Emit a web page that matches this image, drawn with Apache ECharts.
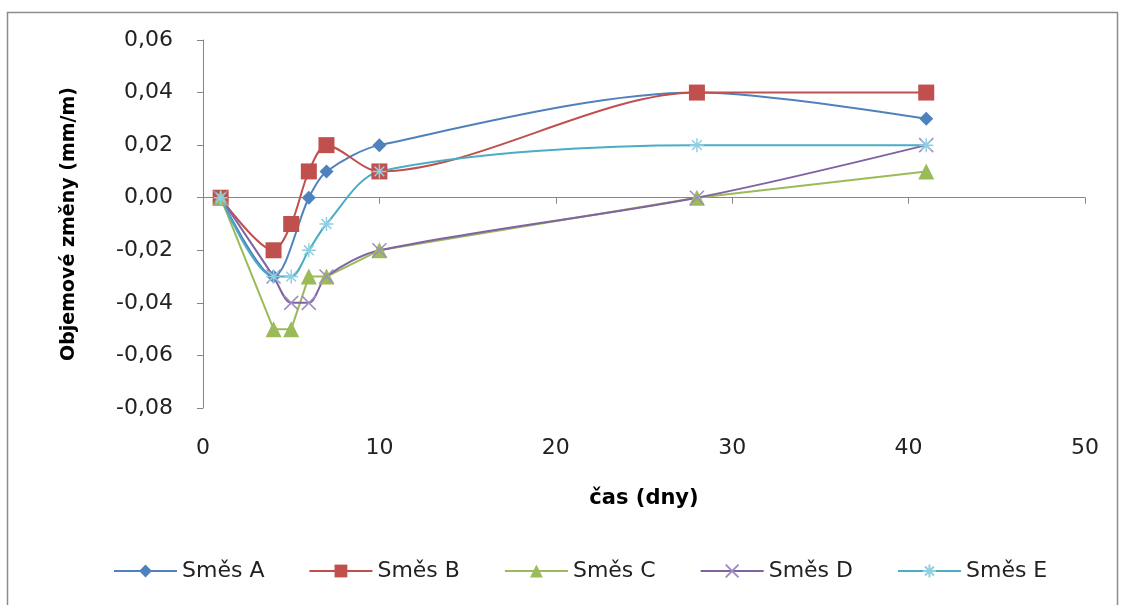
<!DOCTYPE html>
<html>
<head>
<meta charset="utf-8">
<script src="https://cdn.jsdelivr.net/npm/echarts@6/dist/echarts.min.js"></script>
<style>
  html, body { margin: 0; padding: 0; background: #fff; }
  #chart { width: 1125px; height: 605px; }
</style>
</head>
<body>
<div id="chart"></div>
<script>
// Measurement days and volume changes (mm/m) for each mix
const daysA = [1, 4, 6, 7, 10, 28, 41];
const smesA = [0.00, -0.03, 0.00, 0.01, 0.02, 0.04, 0.03];

const days = [1, 4, 5, 6, 7, 10, 28, 41];
const smesB = [0.00, -0.02, -0.01, 0.01, 0.02, 0.01, 0.04, 0.04];
const smesC = [0.00, -0.05, -0.05, -0.03, -0.03, -0.02, 0.00, 0.01];
const smesD = [0.00, -0.03, -0.04, -0.04, -0.03, -0.02, 0.00, 0.02];
const smesE = [0.00, -0.03, -0.03, -0.02, -0.01, 0.01, 0.02, 0.02];

const seriesNames = ['Směs A', 'Směs B', 'Směs C', 'Směs D', 'Směs E'];
const xTicks = { min: 0, max: 50, step: 10 };
const yTicks = { min: -0.08, max: 0.06, step: 0.02 };

const pairs = (xs, ys) => xs.map((x, i) => [x, ys[i]]);
const FONT = "'DejaVu Sans', sans-serif";

const crossPath = 'path://M0,0L10,10M10,0L0,10';
const starPath = 'path://M5,0L5,10M0,5L10,5M1.5,1.5L8.5,8.5M8.5,1.5L1.5,8.5';
const SMOOTH = 0.3;

const chart = echarts.init(document.getElementById('chart'));
chart.setOption({
  backgroundColor: '#ffffff',
  animation: false,
  textStyle: { fontFamily: FONT },
  graphic: [{
    type: 'rect',
    shape: { x: 7.5, y: 12.5, width: 1110, height: 600 },
    style: { fill: 'none', stroke: '#8c8c8c', lineWidth: 1.5 },
    silent: true
  }],
  grid: { left: 203, top: 40, right: 40, bottom: 197 },
  legend: {
    bottom: 18,
    left: 108,
    itemGap: 44,
    itemWidth: 63,
    itemHeight: 16,
    textStyle: { fontSize: 22, color: '#222', fontFamily: FONT },
    data: seriesNames
  },
  xAxis: {
    type: 'value',
    min: xTicks.min, max: xTicks.max, interval: xTicks.step,
    name: 'čas (dny)',
    nameLocation: 'middle',
    nameGap: 80,
    nameTextStyle: { fontSize: 21, fontWeight: 'bold', color: '#000', fontFamily: FONT },
    axisLine: { lineStyle: { color: '#868686', width: 1 } },
    axisTick: { show: true, length: 6, lineStyle: { color: '#868686' } },
    axisLabel: { fontSize: 22, color: '#222', margin: 29 },
    splitLine: { show: false }
  },
  yAxis: {
    type: 'value',
    min: yTicks.min, max: yTicks.max, interval: yTicks.step,
    name: 'Objemové změny (mm/m)',
    nameLocation: 'middle',
    nameGap: 124,
    nameRotate: 90,
    nameTextStyle: { fontSize: 19, fontWeight: 'bold', color: '#000', fontFamily: FONT },
    axisLine: { show: true, lineStyle: { color: '#868686', width: 1 } },
    axisTick: { show: true, length: 6, lineStyle: { color: '#868686' } },
    axisLabel: {
      fontSize: 22, color: '#222', margin: 30,
      formatter: v => v.toFixed(2).replace('.', ',')
    },
    splitLine: { show: false }
  },
  series: [
    {
      name: seriesNames[0], type: 'line', smooth: SMOOTH,
      data: pairs(daysA, smesA),
      symbol: 'diamond', symbolSize: 14,
      itemStyle: { color: '#4F81BD' },
      lineStyle: { color: '#4F81BD', width: 2 }
    },
    {
      name: seriesNames[1], type: 'line', smooth: SMOOTH,
      data: pairs(days, smesB),
      symbol: 'rect', symbolSize: 16,
      itemStyle: { color: '#C0504D' },
      lineStyle: { color: '#C0504D', width: 2 }
    },
    {
      name: seriesNames[2], type: 'line', smooth: false,
      data: pairs(days, smesC),
      symbol: 'triangle', symbolSize: 16,
      itemStyle: { color: '#9BBB59' },
      lineStyle: { color: '#9BBB59', width: 2 }
    },
    {
      name: seriesNames[3], type: 'line', smooth: SMOOTH,
      data: pairs(days, smesD),
      symbol: crossPath, symbolSize: 14,
      itemStyle: { color: 'rgba(0,0,0,0)', borderColor: '#a08cc0', borderWidth: 1.5 },
      lineStyle: { color: '#8064A2', width: 2 }
    },
    {
      name: seriesNames[4], type: 'line', smooth: SMOOTH,
      data: pairs(days, smesE),
      symbol: starPath, symbolSize: 14,
      itemStyle: { color: 'rgba(0,0,0,0)', borderColor: '#8fd0e0', borderWidth: 1.5 },
      lineStyle: { color: '#4BACC6', width: 2 }
    }
  ]
});
</script>
</body>
</html>
